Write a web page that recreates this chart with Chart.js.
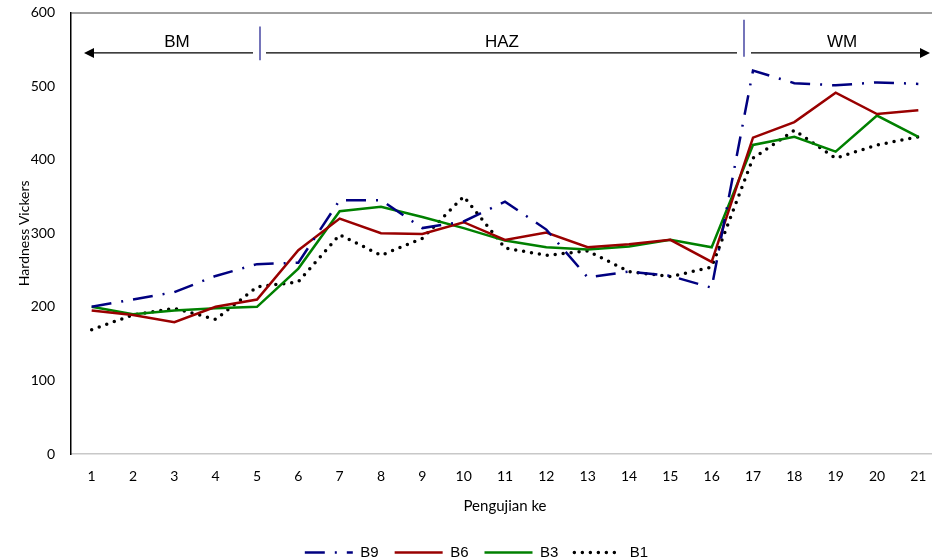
<!DOCTYPE html>
<html>
<head>
<meta charset="utf-8">
<script src="https://cdn.jsdelivr.net/npm/chart.js@4.4.1/dist/chart.umd.min.js"></script>
<style>
  html, body { margin: 0; padding: 0; background: #fff; overflow: hidden; }
  #wrap { width: 950px; height: 560px; }
</style>
</head>
<body>
<div id="wrap"><canvas id="hardnessChart" width="950" height="560"></canvas></div>
<script>
// data
const testPoints = ['1','2','3','4','5','6','7','8','9','10','11','12','13','14','15','16','17','18','19','20','21'];
const b9 = [200, 210, 220, 242, 258, 260, 345, 345, 307, 316, 343, 305, 240, 248, 242, 226, 521, 504, 501, 505, 503];
const b6 = [195, 189, 179, 200, 210, 277, 320, 300, 299, 315, 291, 301, 281, 285, 291, 261, 430, 451, 491, 462, 467];
const b3 = [200, 190, 195, 198, 200, 252, 330, 336, 322, 307, 290, 281, 278, 282, 291, 281, 420, 431, 411, 460, 431];
const b1 = [169, 189, 198, 183, 227, 234, 298, 270, 293, 350, 280, 270, 276, 248, 241, 254, 402, 440, 402, 420, 431];
const yTicks = [0, 100, 200, 300, 400, 500, 600];
const zones = ['BM', 'HAZ', 'WM'];

const tickFont = { family: 'Lato', size: 14 };

// zone arrows + dividers on top of the plot
const zonePlugin = {
    id: 'zones',
    afterDraw(chart) {
        const { ctx, chartArea, scales: { x, y } } = chart;
        const arrowY = y.getPixelForValue(545);
        const textY = y.getPixelForValue(560);
        const div1 = x.getPixelForValue(4) + 3;
        const div2 = x.getPixelForValue(16) - 9;
        const leftTip = chartArea.left + 13;
        const rightTip = 930;

        ctx.save();
        // top border of plot area
        ctx.strokeStyle = '#404040';
        ctx.lineWidth = 1;
        ctx.beginPath();
        ctx.moveTo(chartArea.left, chartArea.top + 0.5);
        ctx.lineTo(chartArea.right, chartArea.top + 0.5);
        ctx.stroke();

        // arrow lines
        ctx.strokeStyle = '#000';
        ctx.lineWidth = 1.2;
        ctx.beginPath();
        ctx.moveTo(leftTip + 8, arrowY); ctx.lineTo(div1 - 7, arrowY);
        ctx.moveTo(div1 + 6, arrowY); ctx.lineTo(div2 - 7, arrowY);
        ctx.moveTo(div2 + 7, arrowY); ctx.lineTo(rightTip - 8, arrowY);
        ctx.stroke();

        ctx.fillStyle = '#000';
        ctx.beginPath();
        ctx.moveTo(leftTip, arrowY); ctx.lineTo(leftTip + 10, arrowY - 5); ctx.lineTo(leftTip + 10, arrowY + 5);
        ctx.closePath(); ctx.fill();
        ctx.beginPath();
        ctx.moveTo(rightTip, arrowY); ctx.lineTo(rightTip - 10, arrowY - 5); ctx.lineTo(rightTip - 10, arrowY + 5);
        ctx.closePath(); ctx.fill();

        // dividers
        ctx.strokeStyle = '#1a1a8c';
        ctx.lineWidth = 1.2;
        ctx.beginPath();
        ctx.moveTo(div1, y.getPixelForValue(581)); ctx.lineTo(div1, y.getPixelForValue(535));
        ctx.moveTo(div2, y.getPixelForValue(590)); ctx.lineTo(div2, y.getPixelForValue(540));
        ctx.stroke();

        // zone labels
        ctx.font = '17px "Liberation Sans"';
        ctx.textAlign = 'center';
        ctx.textBaseline = 'middle';
        ctx.fillText(zones[0], (leftTip + div1) / 2 + 5, textY);
        ctx.fillText(zones[1], (div1 + div2) / 2, textY);
        ctx.fillText(zones[2], (div2 + rightTip) / 2 + 5, textY);
        ctx.restore();
    }
};

const ctx = document.getElementById('hardnessChart');

const hardnessChart = new Chart(ctx, {
    type: 'line',
    data: {
        labels: testPoints,
        datasets: [
            {
                label: 'B9',
                data: b9,
                borderColor: '#000080',
                backgroundColor: '#000080',
                borderWidth: 2.5,
                borderDash: [20, 10, 2, 10],
                pointRadius: 0,
                tension: 0,
            },
            {
                label: 'B6',
                data: b6,
                borderColor: '#990000',
                backgroundColor: '#990000',
                borderWidth: 2.5,
                pointRadius: 0,
                tension: 0,
            },
            {
                label: 'B3',
                data: b3,
                borderColor: '#008000',
                backgroundColor: '#008000',
                borderWidth: 2.5,
                pointRadius: 0,
                tension: 0,
            },
            {
                label: 'B1',
                data: b1,
                borderColor: '#000000',
                backgroundColor: '#000000',
                borderWidth: 3.5,
                borderDash: [0, 8],
                borderCapStyle: 'round',
                pointRadius: 0,
                tension: 0,
            },
        ],
    },
    options: {
        responsive: false,
        animation: false,
        layout: { padding: { top: 12.5, right: 11, left: 14, bottom: -10 } },
        plugins: {
            tooltip: { enabled: false },
            legend: {
                position: 'bottom',
                labels: {
                    usePointStyle: true,
                    pointStyle: 'line',
                    pointStyleWidth: 48,
                    boxHeight: 15,
                    padding: 16,
                    color: '#000',
                    font: { family: 'Liberation Sans', size: 15 },
                    // legend lines follow the dataset dash patterns
                    generateLabels(chart) {
                        const items = Chart.defaults.plugins.legend.labels.generateLabels(chart);
                        items.forEach((it) => {
                            const ds = chart.data.datasets[it.datasetIndex];
                            it.lineDash = ds.borderDash || [];
                            it.lineCap = ds.borderCapStyle || 'butt';
                            it.lineWidth = ds.borderWidth;
                            it.strokeStyle = ds.borderColor;
                        });
                        return items;
                    },
                },
            },
        },
        scales: {
            x: {
                offset: true,
                afterFit(axis) { axis.height = 75; },
                grid: { display: false, drawTicks: false },
                border: { color: '#c8c8c8', width: 1.5 },
                ticks: { color: '#000', font: tickFont, padding: 14, maxRotation: 0 },
                title: {
                    display: true,
                    text: 'Pengujian ke',
                    color: '#000',
                    font: { family: 'Lato', size: 15 },
                    padding: { top: 0, bottom: 14 },
                },
            },
            y: {
                min: 0,
                max: 600,
                afterFit(axis) {
                    axis.width = 57;
                    axis.paddingTop = 0;
                    axis.paddingBottom = 0;
                },
                afterBuildTicks(axis) { axis.ticks = yTicks.map(v => ({ value: v })); },
                grid: { display: false, drawTicks: false },
                border: { color: '#000', width: 1.5 },
                ticks: { color: '#000', font: tickFont, padding: 16 },
                title: {
                    display: true,
                    text: 'Hardness Vickers',
                    color: '#000',
                    font: tickFont,
                    padding: { top: 2, bottom: 0 },
                },
            },
        },
    },
    plugins: [zonePlugin],
});
</script>
</body>
</html>
